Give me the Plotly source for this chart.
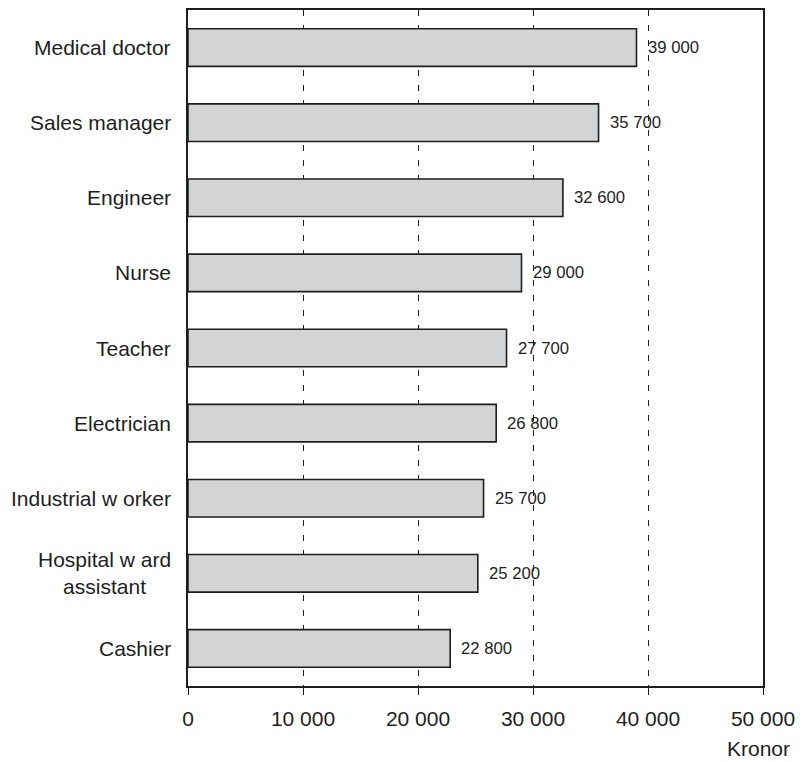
import plotly.graph_objects as go

# Monthly salary by occupation (kronor)
occupations = [
    "Medical doctor",
    "Sales manager",
    "Engineer",
    "Nurse",
    "Teacher",
    "Electrician",
    "Industrial w orker",
    "Hospital w ard<br>assistant",
    "Cashier",
]
salaries = [39000, 35700, 32600, 29000, 27700, 26800, 25700, 25200, 22800]
x_ticks = [0, 10000, 20000, 30000, 40000, 50000]

ink = "#1e1e1e"
font_family = "Liberation Sans, Arial, sans-serif"


def fmt(v):
    return f"{v:,}".replace(",", " ")


fig = go.Figure(
    go.Bar(
        x=salaries,
        y=occupations,
        orientation="h",
        width=0.5,
        marker=dict(color="#d3d4d6", line=dict(color=ink, width=1.6)),
        hoverinfo="skip",
    )
)

# value labels beside each bar
for occ, val in zip(occupations, salaries):
    fig.add_annotation(
        x=val, y=occ, xref="x", yref="y",
        text=fmt(val), showarrow=False,
        xanchor="left", yanchor="middle", xshift=9,
        font=dict(family=font_family, size=16.7, color=ink),
    )

# category labels, lines centred within each block
for occ in occupations:
    fig.add_annotation(
        x=0, y=occ, xref="paper", yref="y",
        text=occ, showarrow=False, align="center",
        xanchor="right", yanchor="middle", xshift=-15,
        font=dict(family=font_family, size=21, color=ink),
    )

# unit label under the axis
fig.add_annotation(
    x=1.05, y=-0.093, xref="paper", yref="paper",
    text="Kronor", showarrow=False,
    xanchor="right", yanchor="middle",
    font=dict(family=font_family, size=21, color=ink),
)

fig.update_layout(
    width=803,
    height=762,
    margin=dict(l=188, r=37, t=8, b=76),
    paper_bgcolor="white",
    plot_bgcolor="white",
    showlegend=False,
    font=dict(family=font_family, size=21, color=ink),
)

fig.update_xaxes(
    range=[0, 50000],
    tickvals=x_ticks,
    ticktext=[fmt(t) for t in x_ticks],
    ticks="outside",
    ticklen=7,
    tickwidth=1.2,
    tickcolor=ink,
    ticklabelstandoff=6,
    showline=True,
    linecolor=ink,
    linewidth=1.8,
    mirror=True,
    showgrid=True,
    gridcolor=ink,
    gridwidth=1,
    griddash="6px,9px",
    zeroline=False,
    tickfont=dict(family=font_family, size=21, color=ink),
    fixedrange=True,
)

fig.update_yaxes(
    categoryorder="array",
    categoryarray=occupations,
    autorange="reversed",
    showticklabels=False,
    ticks="",
    showline=True,
    linecolor=ink,
    linewidth=1.8,
    mirror=True,
    showgrid=False,
    zeroline=False,
    fixedrange=True,
)

fig.write_html("out.html")
